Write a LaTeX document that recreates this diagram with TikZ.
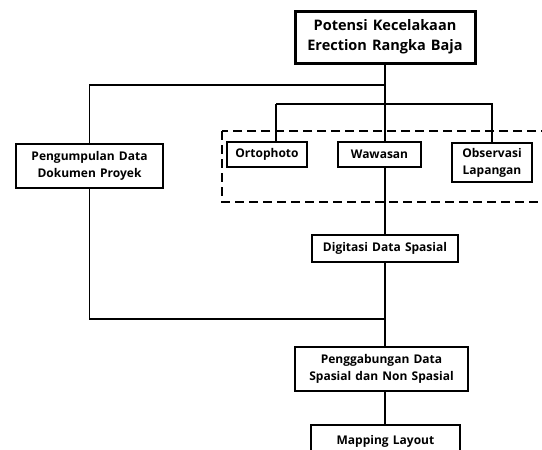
\documentclass[tikz,border=0pt]{standalone}
\usepackage{fontspec}
\setmainfont{Open Sans}[WordSpace=1.35]
\begin{document}
\begin{tikzpicture}[x=1pt,y=-1pt,
  box/.style={draw,line width=1.5pt,align=center,inner sep=0pt,font=\fontsize{12}{17}\selectfont\bfseries},
  conn/.style={line width=1.1pt}]
\useasboundingbox (0,0) rectangle (542,450);
\clip (0,0) rectangle (542,450);
\node[box,line width=3pt,minimum width=180pt,minimum height=52pt,font=\fontsize{14.5}{20}\selectfont\bfseries] (top) at (385,37) {Potensi Kecelakaan\\Erection Rangka Baja};
\node[box,minimum width=147pt,minimum height=44pt] (peng) at (89.5,166) {Pengumpulan Data\\Dokumen Proyek};
\draw[line width=2pt,dash pattern=on 9pt off 5pt] (222,131) rectangle (560,202);
\node[box,minimum width=80pt,minimum height=25pt] (orto) at (267,154.5) {Ortophoto};
\node[box,minimum width=83pt,minimum height=25pt] (waw) at (379.5,154.5) {Wawasan};
\node[box,minimum width=80pt,minimum height=39pt] (obs) at (492,162.5) {Observasi\\Lapangan};
\node[box,minimum width=146pt,minimum height=27pt] (dig) at (385,248.5) {Digitasi Data Spasial};
\node[box,minimum width=173pt,minimum height=44pt] (gab) at (381.5,369) {Penggabungan Data\\Spasial dan Non Spasial};
\node[box,minimum width=149pt,minimum height=40pt,anchor=north] (map) at (385.5,424) {\raisebox{9pt}{Mapping Layout}};
\coordinate (j1) at (385,85);
\coordinate (j2) at (385,104);
\coordinate (j3) at (385,319);
\draw[conn] (top.south) -- (top.south |- waw.north);
\draw[conn] (j1) -| (peng.north);
\draw[conn] (j2 -| orto.north) ++(9,0) coordinate (ol) -- (ol |- orto.north);
\draw[conn] (ol) -- (j2) -- (j2 -| obs.north) -- (obs.north);
\draw[conn] (top.south |- waw.south) -- (top.south |- dig.north);
\draw[conn] (top.south |- dig.south) -- (top.south |- gab.north);
\draw[conn] (peng.south) |- (j3);
\draw[conn] (top.south |- gab.south) -- (top.south |- map.north);
\end{tikzpicture}
\end{document}
